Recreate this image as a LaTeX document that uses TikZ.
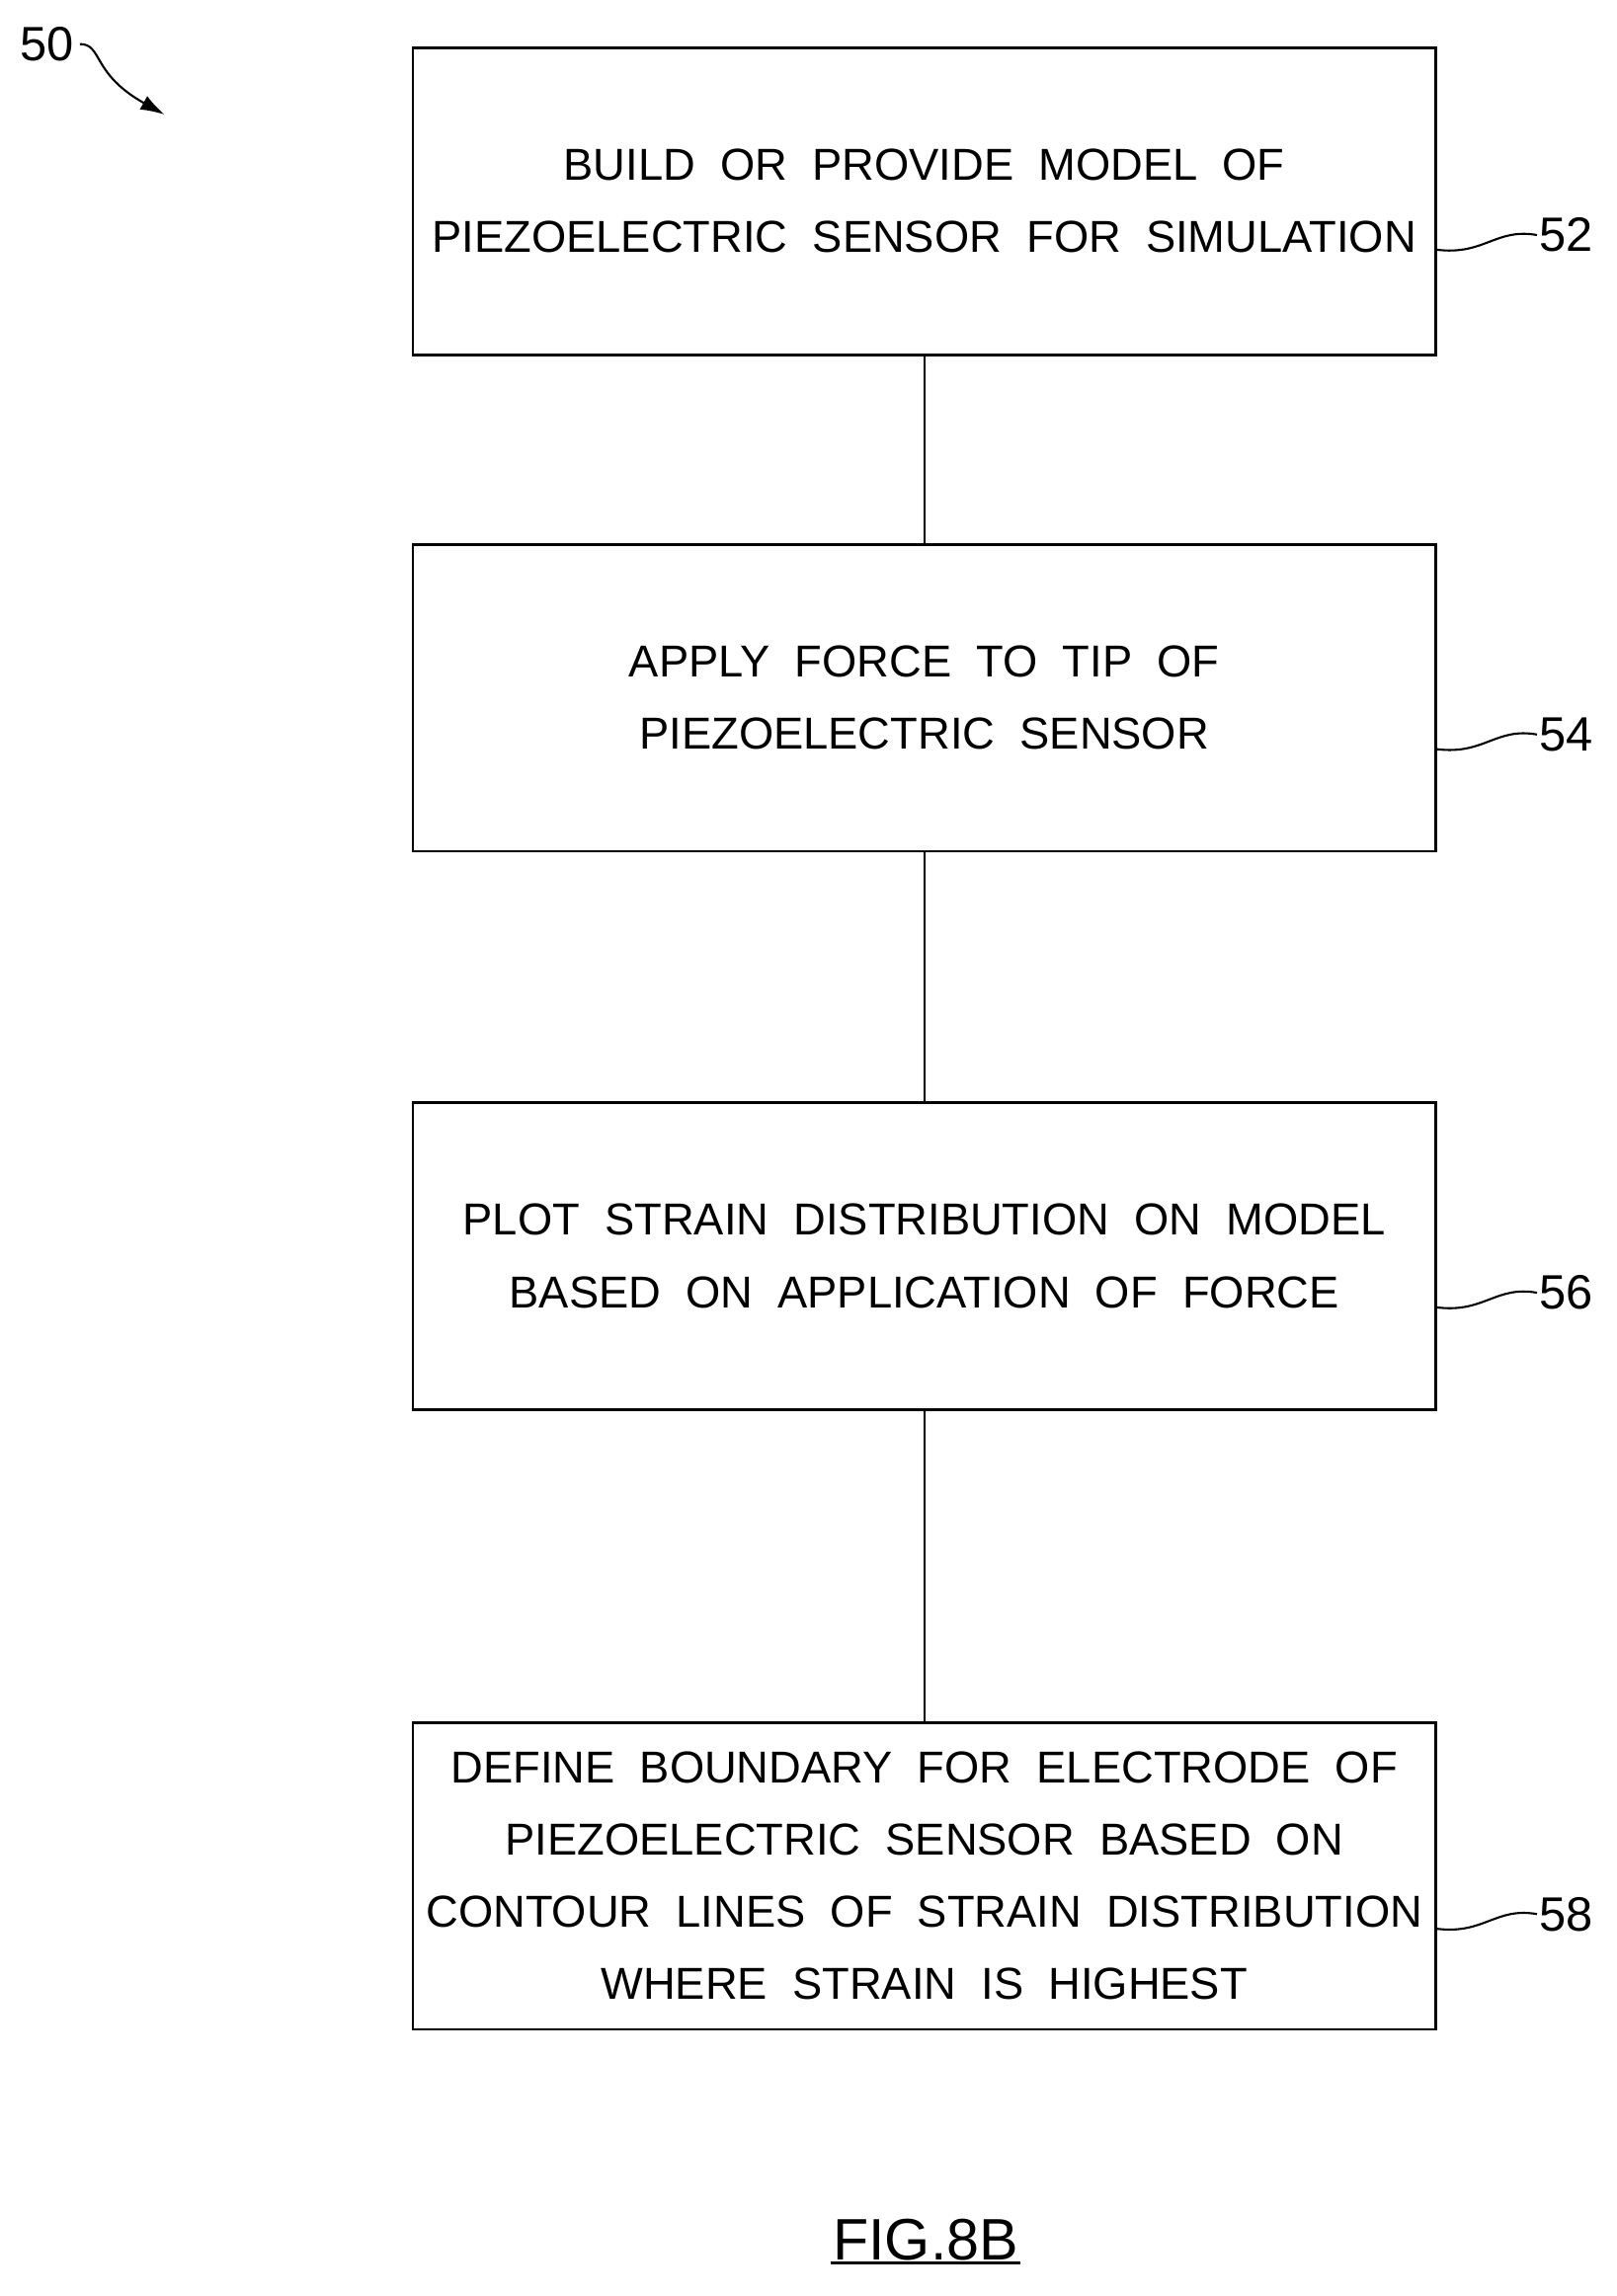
\documentclass[tikz,border=0pt]{standalone}
\usepackage{fontspec}
\setmainfont{Liberation Sans}
\usetikzlibrary{arrows.meta}
\begin{document}
\begin{tikzpicture}[x=0.3mm,y=-0.3mm,
  box/.style={draw,line width=1.6pt,minimum width=696*0.3mm,minimum height=209*0.3mm,align=center,font=\fontsize{26}{42}\selectfont,inner sep=0pt},
  lbl/.style={font=\fontsize{28}{30}\selectfont,anchor=west,inner sep=1pt},
  ln/.style={line width=1.2pt}]
\useasboundingbox (0,0) rectangle (1100,1563);
\node[box] (b1) at (629,137) {BUILD\ \ OR\ \ PROVIDE\ \ MODEL\ \ OF\\PIEZOELECTRIC\ \ SENSOR\ \ FOR\ \ SIMULATION};
\node[box] (b2) at (629,475) {APPLY\ \ FORCE\ \ TO\ \ TIP\ \ OF\\PIEZOELECTRIC\ \ SENSOR};
\node[box] (b3) at (629,855) {PLOT\ \ STRAIN\ \ DISTRIBUTION\ \ ON\ \ MODEL\\BASED\ \ ON\ \ APPLICATION\ \ OF\ \ FORCE};
\node[box] (b4) at (629,1277) {DEFINE\ \ BOUNDARY\ \ FOR\ \ ELECTRODE\ \ OF\\PIEZOELECTRIC\ \ SENSOR\ \ BASED\ \ ON\\CONTOUR\ \ LINES\ \ OF\ \ STRAIN\ \ DISTRIBUTION\\WHERE\ \ STRAIN\ \ IS\ \ HIGHEST};
\draw[ln] (b1) -- (b2);
\draw[ln] (b2) -- (b3);
\draw[ln] (b3) -- (b4);
\foreach \b/\n/\y in {b1/52/160,b2/54/500,b3/56/880,b4/58/1303}{
  \node[lbl] (l\n) at (1046,\y) {\n};
  \draw[ln] (\b.east |- 0,\y+10) .. controls (1010,\y+14) and (1018,\y-5) .. (l\n.west);
}
\node[font=\fontsize{28}{30}\selectfont] (n50) at (32,30) {50};
\coordinate (a50) at (112,78);
\draw[ln,-{Latex[length=14pt,width=9pt]}] (n50.east) .. controls (70,30) and (62,50) .. (a50);
\node[font=\fontsize{34}{36}\selectfont,inner sep=1pt] (fig) at (630,1525) {FIG.8B};
\draw[line width=2pt] (fig.south west) -- (fig.south east);
\end{tikzpicture}
\end{document}
